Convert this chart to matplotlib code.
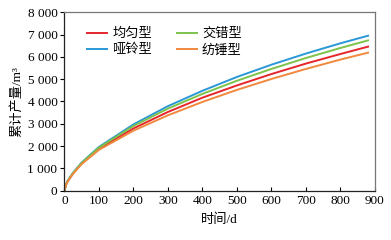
import matplotlib
matplotlib.use('Agg')
import matplotlib.pyplot as plt
from matplotlib.ticker import FuncFormatter

plt.rcParams['font.family'] = ['Liberation Serif', 'Noto Sans CJK SC', 'DejaVu Sans']

# time (d) and cumulative production (m^3)
days = [0, 5, 10, 25, 50, 100, 200, 300, 400, 500, 600, 700, 800, 880]
uniform = [0, 270, 430, 770, 1220, 1880, 2790, 3530, 4170, 4720, 5230, 5700, 6130, 6460]
staggered = [0, 275, 440, 790, 1240, 1930, 2900, 3680, 4340, 4930, 5460, 5950, 6400, 6740]
dumbbell = [0, 280, 450, 800, 1260, 1960, 2970, 3790, 4480, 5100, 5650, 6150, 6610, 6950]
spindle = [0, 265, 425, 755, 1190, 1830, 2690, 3380, 3980, 4520, 5010, 5460, 5880, 6190]

labels = ['均匀型', '哑铃型', '交错型', '纺锤型']
series = [uniform, dumbbell, staggered, spindle]
colors = ['#e5262b', '#2a98d6', '#7dc24a', '#f0883e']

fig = plt.figure(figsize=(3.91, 2.40), dpi=100)
ax = fig.add_axes([0.1645, 0.2054, 0.7945, 0.7434])

for vals, c, lab in zip(series, colors, labels):
    ax.plot(days, vals, color=c, lw=1.4, label=lab)

ax.set_xlim(0, 900)
ax.set_ylim(0, 8000)
ax.set_xticks(range(0, 901, 100))
ax.set_yticks(range(0, 8001, 1000))
ax.yaxis.set_major_formatter(FuncFormatter(lambda v, p: f'{int(v):,}'.replace(',', ' ')))
ax.tick_params(axis='x', direction='in', length=3, width=0.8, labelsize=9.5, pad=3)
ax.tick_params(axis='y', direction='out', length=3, width=0.8, labelsize=9.5, pad=2)
for side in ['left', 'bottom']:
    ax.spines[side].set_color('#222222')
    ax.spines[side].set_linewidth(0.9)
for side in ['top', 'right']:
    ax.spines[side].set_color('#777777')
    ax.spines[side].set_linewidth(0.9)

ax.set_xlabel('时间/d', fontsize=9.5, labelpad=5)
ax.set_ylabel('累计产量/m³', fontsize=9.5, labelpad=3)

ax.legend(loc='upper left', ncol=2, frameon=False, fontsize=9.5,
          handlelength=1.5, handletextpad=0.4, columnspacing=1.9,
          labelspacing=0.3, bbox_to_anchor=(0.035, 0.98))

fig.savefig('out.png', dpi=100)
